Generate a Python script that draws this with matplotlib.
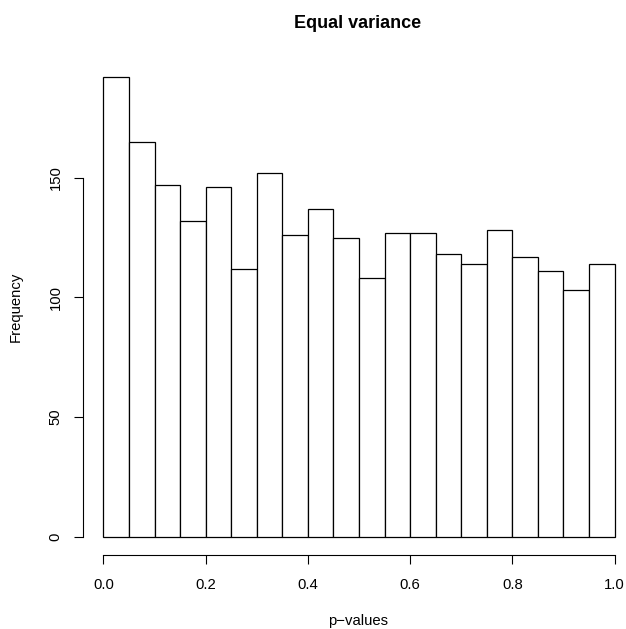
import matplotlib

matplotlib.use("Agg")
import matplotlib.pyplot as plt
import numpy as np

# histogram of p-values, 20 bins of width 0.05
bin_edges = [round(0.05 * i, 2) for i in range(21)]
counts = [192, 165, 147, 132, 146, 112, 152, 126, 137, 125,
          108, 127, 127, 118, 114, 128, 117, 111, 103, 114]
x_ticks = [0.0, 0.2, 0.4, 0.6, 0.8, 1.0]
y_ticks = [0, 50, 100, 150]

plt.rcParams["font.family"] = ["Liberation Sans", "DejaVu Sans"]
plt.rcParams["font.size"] = 10.7

W, H = 626, 629
fig = plt.figure(figsize=(W / 100, H / 100), dpi=100)
# plot region in pixels (R style, extends slightly past the right edge)
left, right, top, bottom = 83, 635, 59, 555
ax = fig.add_axes([left / W, 1 - bottom / H, (right - left) / W, (bottom - top) / H])

ax.bar(bin_edges[:-1], counts, width=0.05, align="edge",
       facecolor="white", edgecolor="black", linewidth=0.9)

ax.set_xlim(-0.04, 1.04)
ax.set_ylim(-0.04 * max(counts), 1.04 * max(counts))

for s in ["top", "right"]:
    ax.spines[s].set_visible(False)
ax.spines["left"].set_bounds(0, 150)
ax.spines["bottom"].set_bounds(0, 1)
for s in ["left", "bottom"]:
    ax.spines[s].set_linewidth(0.8)

ax.set_xticks(x_ticks)
ax.set_xticklabels([f"{v:.1f}" for v in x_ticks])
ax.set_yticks(y_ticks)
ax.set_yticklabels([str(v) for v in y_ticks], rotation=90, va="center")
ax.tick_params(direction="out", length=6.8, width=0.8, color="black")
ax.tick_params(axis="x", pad=10)
ax.tick_params(axis="y", pad=8)

fig.text(358 / W, 1 - 23 / H, "Equal variance", ha="center", va="center",
         fontsize=13, fontweight="bold")
fig.text(358 / W, 1 - 621 / H, "p\u2212values", ha="center", va="center")
fig.text(16 / W, 1 - 307 / H, "Frequency", ha="center", va="center", rotation=90)

fig.savefig("out.png", dpi=100, facecolor="white")
